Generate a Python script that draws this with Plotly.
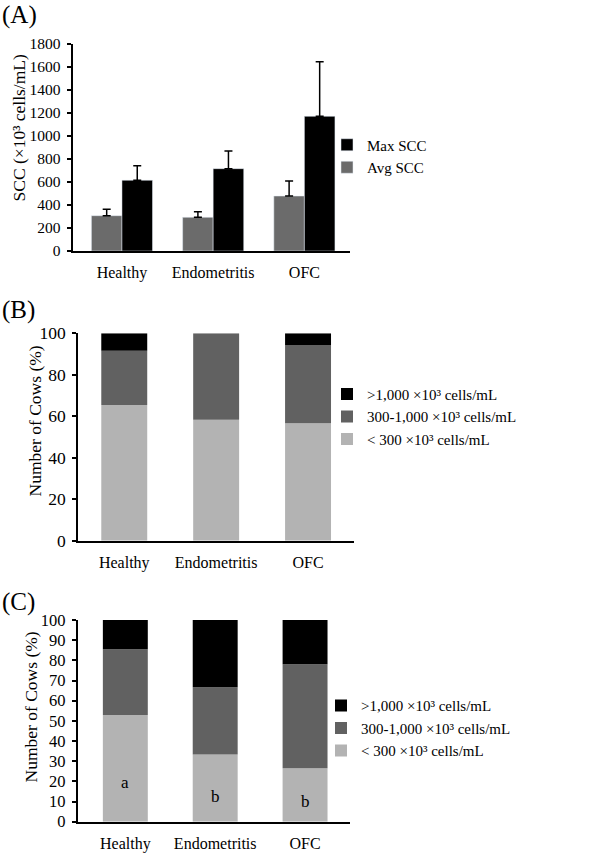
import plotly.graph_objects as go

W, H = 606, 854
FONT = "Liberation Serif, Times New Roman, serif"

# ---------------- data ----------------
groups = ["Healthy", "Endometritis", "OFC"]

# Panel A: SCC (x10^3 cells/mL)
avg_scc = [307, 293, 478]
avg_scc_sd = [55, 49, 131]
max_scc = [615, 716, 1171]
max_scc_sd = [127, 154, 475]

# Panel B: distribution of cows (%)
b_low = [65.4, 58.3, 56.6]
b_mid = [26.2, 41.7, 37.8]
b_high = [8.4, 0.0, 5.6]

# Panel C: distribution of cows (%)
c_low = [52.9, 33.3, 26.5]
c_mid = [32.6, 33.3, 51.5]
c_high = [14.5, 33.4, 22.0]
c_letters = ["a", "b", "b"]

series_names = ["&lt; 300 ×10³ cells/mL",
                "300-1,000 ×10³ cells/mL",
                "&gt;1,000 ×10³ cells/mL"]
series_colors = ["#b3b3b3", "#616161", "#000000"]

# ---------------- helpers ----------------
def px_x(p):
    return p / W

def px_y(p):
    return 1 - p / H

fig = go.Figure()

# ---- Panel A (grouped bars with one-sided error bars) ----
fig.add_trace(go.Bar(
    x=groups, y=avg_scc, name="Avg SCC", marker_color="#6b6b6b",
    width=0.335, offset=-0.335, xaxis="x", yaxis="y", legend="legend",
    error_y=dict(type="data", array=avg_scc_sd, arrayminus=[0] * 3,
                 symmetric=False, color="black", thickness=1.5, width=4),
))
fig.add_trace(go.Bar(
    x=groups, y=max_scc, name="Max SCC", marker_color="#000000",
    width=0.335, offset=0, xaxis="x", yaxis="y", legend="legend",
    error_y=dict(type="data", array=max_scc_sd, arrayminus=[0] * 3,
                 symmetric=False, color="black", thickness=1.5, width=4),
))

# ---- Panels B & C (stacked bars via base) ----
def add_stack(low, mid, high, xa, ya, leg):
    vals = [low, mid, high]
    base = [0] * len(groups)
    for name, col, v in zip(series_names, series_colors, vals):
        fig.add_trace(go.Bar(
            x=groups, y=v, base=list(base), name=name, marker_color=col,
            marker_line_width=0, width=0.5, offset=-0.25,
            xaxis=xa, yaxis=ya, legend=leg,
        ))
        base = [b + vi for b, vi in zip(base, v)]

add_stack(b_low, b_mid, b_high, "x2", "y2", "legend2")
add_stack(c_low, c_mid, c_high, "x3", "y3", "legend3")

# ---------------- axes ----------------
def xaxis(dom, rng, anchor):
    return dict(domain=dom, range=rng, showline=True, linecolor="black",
                linewidth=2, ticks="", showgrid=False, zeroline=False,
                automargin=False, anchor=anchor,
                tickfont=dict(family=FONT, size=16, color="black"),
                ticklabelstandoff=6)

def yaxis(dom, rng, dt, fs, anchor):
    return dict(domain=dom, range=rng, dtick=dt, showline=True,
                linecolor="black", linewidth=2, ticks="outside", ticklen=4,
                tickwidth=1.5, tickcolor="black", showgrid=False,
                zeroline=False, anchor=anchor, automargin=False,
                tickfont=dict(family=FONT, size=fs, color="black"),
                ticklabelstandoff=3)

legend_font = dict(family=FONT, size=15, color="black")

fig.update_layout(
    width=W, height=H,
    margin=dict(l=0, r=0, t=0, b=0, pad=0, autoexpand=False),
    paper_bgcolor="white", plot_bgcolor="white",
    barmode="overlay", showlegend=True,
    font=dict(family=FONT, color="black"),
    xaxis=xaxis([px_x(72.7), px_x(350)], [-0.54, 2.5], "y"),
    yaxis=yaxis([px_y(251), px_y(44)], [0, 1800], 200, 15.5, "x"),
    xaxis2=xaxis([px_x(78.3), px_x(354)], [-0.5, 2.5], "y2"),
    yaxis2=yaxis([px_y(540.7), px_y(333.3)], [0, 100], 20, 17.5, "x2"),
    xaxis3=xaxis([px_x(77.7), px_x(350)], [-0.53, 2.5], "y3"),
    yaxis3=yaxis([px_y(821.7), px_y(620)], [0, 100], 10, 16.5, "x3"),
    legend=dict(x=px_x(327), y=px_y(128.5), xanchor="left", yanchor="top",
                traceorder="reversed", font=legend_font,
                bgcolor="rgba(0,0,0,0)"),
    legend2=dict(x=px_x(327), y=px_y(377.7), xanchor="left", yanchor="top",
                 traceorder="reversed", font=legend_font,
                 bgcolor="rgba(0,0,0,0)"),
    legend3=dict(x=px_x(321), y=px_y(689.3), xanchor="left", yanchor="top",
                 traceorder="reversed", font=legend_font,
                 bgcolor="rgba(0,0,0,0)"),
)

# ---------------- annotations ----------------
ann = []
# panel labels
for lab, yc in [("(A)", 15), ("(B)", 310), ("(C)", 602)]:
    ann.append(dict(text=lab, x=0, y=px_y(yc), xref="paper", yref="paper",
                    xanchor="left", yanchor="middle", showarrow=False,
                    font=dict(family=FONT, size=25, color="black")))
# y-axis titles
for txt, xc, yc in [("SCC (×10³ cells/mL)", 18, 127.5),
                    ("Number of Cows (%)", 34.5, 421),
                    ("Number of Cows (%)", 30, 707.5)]:
    ann.append(dict(text=txt, x=px_x(xc), y=px_y(yc), xref="paper",
                    yref="paper", xanchor="center", yanchor="middle",
                    textangle=-90, showarrow=False,
                    font=dict(family=FONT, size=17.5, color="black")))
# significance letters in panel C
for g, letter, low in zip(groups, c_letters, c_low):
    ann.append(dict(text=letter, x=g, y=low * 0.37, xref="x3", yref="y3",
                    showarrow=False,
                    font=dict(family=FONT, size=17, color="black")))
fig.update_layout(annotations=ann)

fig.write_html(
    "out.html",
    config={"displayModeBar": False},
    post_script="document.body.style.margin='0';"
                "document.documentElement.style.overflow='hidden';",
)
